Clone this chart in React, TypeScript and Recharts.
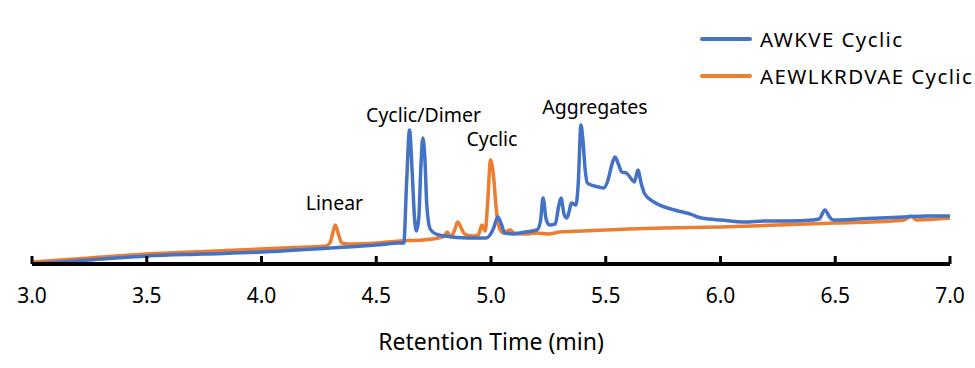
import { LineChart, Line, XAxis, YAxis, Legend, ReferenceDot } from 'recharts'

const FONT = '"Noto Sans", "Open Sans", sans-serif'

const timeTicks = [3.0, 3.5, 4.0, 4.5, 5.0, 5.5, 6.0, 6.5, 7.0]

// AWKVE Cyclic trace (retention time, min / signal, a.u.)
const awkveTimes = [
  3.0, 3.25, 3.5, 3.75, 4.0, 4.3, 4.5, 4.6, 4.62, 4.632, 4.645, 4.657, 4.667, 4.675, 4.685,
  4.695, 4.703, 4.712, 4.72, 4.735, 4.76, 4.8, 4.9, 4.98, 5.01, 5.03, 5.045, 5.06, 5.1, 5.15,
  5.2, 5.215, 5.227, 5.24, 5.255, 5.28, 5.295, 5.305, 5.318, 5.33, 5.34, 5.35, 5.37, 5.38,
  5.392, 5.4, 5.41, 5.42, 5.45, 5.47, 5.49, 5.51, 5.525, 5.54, 5.555, 5.57, 5.59, 5.615,
  5.625, 5.64, 5.655, 5.67, 5.71, 5.8, 5.88, 5.9, 5.95, 6.0, 6.1, 6.2, 6.3, 6.4, 6.43, 6.455,
  6.475, 6.49, 6.6, 6.7, 6.8, 6.9, 7.0,
]
const awkveSignal = [
  0, 4, 8, 10, 12, 16, 19, 21, 21, 80, 134, 90, 45, 33, 45,
  100, 126, 105, 60, 35, 30, 28, 26, 26, 35, 47, 40, 31, 30, 32,
  34, 42, 66, 45, 39, 40, 58, 66, 50, 46, 52, 61, 59, 80,
  139, 125, 95, 81, 78, 77, 76, 84, 98, 107, 100, 92, 91, 84,
  82, 94, 80, 70, 62, 54, 49, 47, 45, 44, 42, 43, 43, 44, 45, 54,
  47, 44, 45, 46, 47, 48, 48,
]

// AEWLKRDVAE Cyclic trace
const aewlTimes = [
  3.0, 3.25, 3.5, 3.75, 4.0, 4.2, 4.28, 4.3, 4.315, 4.322, 4.335, 4.35, 4.38, 4.5, 4.6, 4.7,
  4.77, 4.795, 4.81, 4.825, 4.84, 4.855, 4.87, 4.885, 4.92, 4.945, 4.96, 4.975, 4.985, 4.998,
  5.01, 5.025, 5.04, 5.055, 5.07, 5.085, 5.1, 5.15, 5.2, 5.25, 5.3, 5.4, 5.5, 5.6, 5.75, 6.0,
  6.25, 6.5, 6.75, 6.8, 6.83, 6.855, 7.0,
]
const aewlSignal = [
  2, 6, 10, 12.5, 15, 17, 18, 22, 35, 39, 30, 21, 20, 21, 23, 24,
  26, 28, 32, 27, 33, 42, 36, 30, 28, 29, 39, 33, 60, 104,
  90, 50, 34, 31, 33, 34, 31, 30, 31, 30, 32, 33, 34, 35, 36, 37,
  39, 41, 43, 44, 48, 44, 46,
]

const peakNames = ['Linear', 'Cyclic/Dimer', 'Cyclic', 'Aggregates']
const peakTimes = [4.318, 4.706, 5.004, 5.453]
const peakLevels = [60.5, 148.5, 124.5, 156.5]

const awkveData = awkveTimes.map((t, i) => ({ t, v: awkveSignal[i] }))
const aewlData = aewlTimes.map((t, i) => ({ t, v: aewlSignal[i] }))

function TimeTick({ x, y, payload }: { x?: number; y?: number; payload?: { value: number } }) {
  if (x == null || y == null || !payload) return null
  return (
    <g>
      <line x1={x} x2={x} y1={y - 8} y2={y} stroke="#000" strokeWidth={3} />
      <text x={x} y={y + 39} textAnchor="middle" fontSize={21} fill="#000" fontFamily={FONT}>
        {payload.value.toFixed(1)}
      </text>
    </g>
  )
}

function LegendBox({ payload }: { payload?: { value: string; color: string }[] }) {
  // blue series listed first, as in the source figure
  const items = [...(payload ?? [])].reverse()
  return (
    <div style={{ fontFamily: FONT, fontSize: 20.5, letterSpacing: 1.4, color: '#000' }}>
      {items.map((p) => (
        <div key={p.value} style={{ display: 'flex', alignItems: 'center', height: 37 }}>
          <span
            style={{ width: 52, height: 4, background: p.color, borderRadius: 2, marginRight: 8 }}
          />
          <span>{p.value}</span>
        </div>
      ))}
    </div>
  )
}

export default function App() {
  return (
    <div style={{ position: 'absolute', left: 0, top: 0, width: 975, height: 368, background: '#fff' }}>
      <LineChart
        width={975}
        height={368}
        margin={{ top: 14, right: 25, left: 32, bottom: 14 }}
        style={{ fontFamily: FONT }}
      >
        <XAxis
          type="number"
          dataKey="t"
          domain={[3, 7]}
          ticks={timeTicks}
          allowDataOverflow
          height={90}
          tickSize={0}
          tickMargin={0}
          tickLine={false}
          tick={<TimeTick />}
          axisLine={{ stroke: '#000', strokeWidth: 4 }}
          label={{
            value: 'Retention Time (min)',
            position: 'insideBottom',
            offset: 4,
            fontSize: 23,
            fill: '#000',
            fontFamily: FONT,
          }}
        />
        <YAxis type="number" domain={[0, 250]} hide />
        <Legend
          layout="vertical"
          align="center"
          verticalAlign="middle"
          content={<LegendBox />}
          wrapperStyle={{ left: 700, top: 20, width: 275 }}
        />
        <Line
          data={aewlData}
          dataKey="v"
          name="AEWLKRDVAE Cyclic"
          type="monotone"
          stroke="#ED7D31"
          strokeWidth={3.5}
          dot={false}
          activeDot={false}
          isAnimationActive={false}
          legendType="line"
        />
        <Line
          data={awkveData}
          dataKey="v"
          name="AWKVE Cyclic"
          type="monotone"
          stroke="#4472C4"
          strokeWidth={3.5}
          dot={false}
          activeDot={false}
          isAnimationActive={false}
          legendType="line"
        />
        {peakNames.map((name, i) => (
          <ReferenceDot
            key={name}
            x={peakTimes[i]}
            y={peakLevels[i]}
            r={1}
            fill="none"
            stroke="none"
            label={{ value: name, position: 'center', fontSize: 19.5, fill: '#000', fontFamily: FONT }}
          />
        ))}
      </LineChart>
    </div>
  )
}
